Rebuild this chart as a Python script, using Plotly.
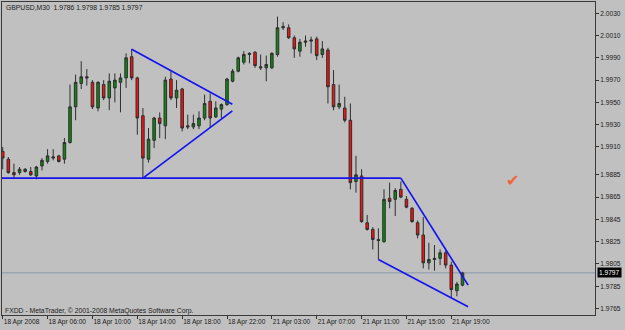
import plotly.graph_objects as go

# ---- data ----
bar_index = list(range(83))
opens = [1.9906, 1.9899, 1.9887, 1.9887, 1.9888, 1.9888, 1.9884, 1.9893, 1.9897, 1.9900,
         1.9902, 1.9899, 1.9914, 1.9946, 1.9967, 1.9973, 1.9968, 1.9945, 1.9966, 1.9954,
         1.9963, 1.9968, 1.9972, 1.9991, 1.9972, 1.9938, 1.9899, 1.9916, 1.9936, 1.9929,
         1.9971, 1.9954, 1.9962, 1.9929, 1.9928, 1.9929, 1.9936, 1.9951, 1.9937, 1.9944,
         1.9948, 1.9969, 1.9978, 1.9986, 1.9993, 1.9995, 1.9982, 1.9981, 1.9981, 1.9993,
         2.0017, 2.0017, 2.0008, 1.9996, 2.0004, 2.0005, 2.0007, 1.9993, 1.9997, 1.9966,
         1.9946, 1.9945, 1.9934, 1.9879, 1.9884, 1.9842, 1.9836, 1.9827, 1.9825, 1.9864,
         1.9863, 1.9872, 1.9863, 1.9855, 1.9842, 1.9831, 1.9806, 1.9809, 1.9810, 1.9815,
         1.9804, 1.9781, 1.9786]
highs = [1.9910, 1.9901, 1.9895, 1.9892, 1.9891, 1.9892, 1.9893, 1.9900, 1.9908, 1.9908,
         1.9903, 1.9918, 1.9966, 1.9975, 1.9987, 1.9980, 1.9970, 1.9969, 1.9970, 1.9976,
         1.9976, 1.9976, 1.9994, 1.9998, 1.9973, 1.9945, 1.9927, 1.9937, 1.9941, 1.9973,
         1.9978, 1.9970, 1.9963, 1.9939, 1.9939, 1.9942, 1.9957, 1.9958, 1.9951, 1.9949,
         1.9972, 1.9980, 1.9991, 1.9996, 1.9995, 1.9996, 1.9993, 1.9992, 1.9995, 2.0027,
         2.0022, 2.0020, 2.0010, 2.0007, 2.0010, 2.0009, 2.0009, 2.0005, 1.9999, 1.9979,
         1.9966, 1.9955, 1.9949, 1.9902, 1.9890, 1.9849, 1.9838, 1.9837, 1.9872, 1.9878,
         1.9873, 1.9879, 1.9866, 1.9856, 1.9844, 1.9847, 1.9824, 1.9822, 1.9818, 1.9817,
         1.9807, 1.9789, 1.9798]
lows = [1.9890, 1.9886, 1.9882, 1.9885, 1.9887, 1.9884, 1.9881, 1.9889, 1.9895, 1.9898,
        1.9896, 1.9895, 1.9913, 1.9934, 1.9962, 1.9965, 1.9944, 1.9942, 1.9952, 1.9943,
        1.9950, 1.9941, 1.9963, 1.9970, 1.9921, 1.9882, 1.9896, 1.9909, 1.9918, 1.9917,
        1.9952, 1.9945, 1.9924, 1.9926, 1.9926, 1.9926, 1.9934, 1.9928, 1.9936, 1.9936,
        1.9947, 1.9968, 1.9977, 1.9984, 1.9985, 1.9981, 1.9979, 1.9969, 1.9980, 1.9991,
        2.0015, 2.0007, 1.9990, 1.9991, 2.0000, 1.9994, 1.9988, 1.9990, 1.9949, 1.9943,
        1.9944, 1.9932, 1.9872, 1.9869, 1.9842, 1.9835, 1.9818, 1.9809, 1.9824, 1.9855,
        1.9848, 1.9864, 1.9855, 1.9842, 1.9828, 1.9801, 1.9800, 1.9799, 1.9804, 1.9801,
        1.9775, 1.9776, 1.9785]
closes = [1.9900, 1.9887, 1.9885, 1.9890, 1.9890, 1.9885, 1.9892, 1.9898, 1.9902, 1.9901,
          1.9897, 1.9914, 1.9946, 1.9968, 1.9973, 1.9972, 1.9946, 1.9968, 1.9954, 1.9969,
          1.9970, 1.9972, 1.9990, 1.9972, 1.9936, 1.9900, 1.9917, 1.9936, 1.9931, 1.9970,
          1.9954, 1.9961, 1.9927, 1.9928, 1.9931, 1.9936, 1.9949, 1.9936, 1.9945, 1.9948,
          1.9971, 1.9978, 1.9990, 1.9993, 1.9994, 1.9983, 1.9981, 1.9984, 1.9994, 2.0017,
          2.0018, 2.0008, 1.9998, 2.0004, 2.0005, 2.0006, 1.9992, 1.9998, 1.9964, 1.9946,
          1.9949, 1.9934, 1.9878, 1.9885, 1.9843, 1.9836, 1.9827, 1.9826, 1.9863, 1.9861,
          1.9871, 1.9865, 1.9856, 1.9843, 1.9831, 1.9806, 1.9809, 1.9810, 1.9815, 1.9804,
          1.9782, 1.9787, 1.9797]

time_tick_bars = [0, 8, 16, 24, 32, 40, 48, 56, 64, 72, 80]
time_tick_labels = ["18 Apr 2008", "18 Apr 06:00", "18 Apr 10:00", "18 Apr 14:00",
                    "18 Apr 18:00", "18 Apr 22:00", "21 Apr 03:00", "21 Apr 07:00",
                    "21 Apr 11:00", "21 Apr 15:00", "21 Apr 19:00"]
price_ticks = [2.0030, 2.0010, 1.9990, 1.9970, 1.9950, 1.9930, 1.9910,
               1.9885, 1.9865, 1.9845, 1.9825, 1.9805, 1.9785, 1.9765]

# trend lines drawn on the chart (bar index, price)
support_x = [-0.2, 71]
support_y = [1.9882, 1.9882]
wedge_top_x = [71, 83.0]
wedge_top_y = [1.9882, 1.9786]
wedge_bottom_x = [67, 83.0]
wedge_bottom_y = [1.9809, 1.97665]
tri_top_x = [23, 40.95]
tri_top_y = [1.99977, 1.99484]
tri_bottom_x = [25, 40.95]
tri_bottom_y = [1.9882, 1.99424]

symbol_text = "GBPUSD,M30\u00a0\u00a01.9786 1.9798 1.9785 1.9797"
copyright_text = "FXDD - MetaTrader, © 2001-2008 MetaQuotes Software Corp."
last_price = 1.9797

FONT = "Liberation Sans, Arial, sans-serif"
BG = "#c0c0c0"
BLUE = "#1414f0"

fig = go.Figure()

fig.add_trace(go.Candlestick(
    x=bar_index, open=opens, high=highs, low=lows, close=closes,
    increasing=dict(fillcolor="#0c8a0c", line=dict(color="#2e2e2e", width=1)),
    decreasing=dict(fillcolor="#ff0d0d", line=dict(color="#2e2e2e", width=1)),
    whiskerwidth=0, showlegend=False, hoverinfo="skip",
))

for lx, ly in [(support_x, support_y), (wedge_top_x, wedge_top_y),
               (wedge_bottom_x, wedge_bottom_y), (tri_top_x, tri_top_y),
               (tri_bottom_x, tri_bottom_y)]:
    fig.add_trace(go.Scatter(x=lx, y=ly, mode="lines",
                             line=dict(color=BLUE, width=1.7),
                             showlegend=False, hoverinfo="skip"))

# bid line
fig.add_shape(type="line", xref="paper", x0=0, x1=1, yref="y", y0=last_price, y1=last_price,
              line=dict(color="#8797a8", width=1), layer="below")

fig.add_annotation(xref="paper", yref="paper", x=0, y=1, xshift=2, yshift=-5,
                   xanchor="left", yanchor="middle", text=symbol_text, showarrow=False,
                   font=dict(family=FONT, size=6.8, color="#1a1a1a"))
fig.add_annotation(xref="paper", yref="paper", x=0, y=0, xshift=1, yshift=4,
                   xanchor="left", yanchor="middle", text=copyright_text, showarrow=False,
                   font=dict(family=FONT, size=6.8, color="#1a1a1a"))
fig.add_annotation(xref="paper", yref="y", x=1, y=last_price, xshift=2,
                   xanchor="left", yanchor="middle", text=f"{last_price:.4f}", showarrow=False,
                   bgcolor="#000000", borderpad=1,
                   font=dict(family=FONT, size=6.6, color="#ffffff"))
fig.add_annotation(xref="x", yref="y", x=90.9, y=1.9880, text="✔", showarrow=False,
                   font=dict(family="DejaVu Sans", size=16, color="#f0643c"))

fig.update_layout(
    width=625, height=330, autosize=False,
    margin=dict(l=2, r=30, t=2, b=15, pad=0, autoexpand=False),
    paper_bgcolor=BG, plot_bgcolor=BG,
    boxgap=0.35,
    font=dict(family=FONT, size=6.6, color="#1a1a1a"),
    xaxis=dict(range=[-0.13, 105.63], showgrid=False, zeroline=False,
               rangeslider=dict(visible=False), automargin=False,
               tickmode="array", tickvals=time_tick_bars, ticktext=time_tick_labels,
               tickangle=0,
               ticks="outside", ticklen=3, tickcolor="#303030",
               ticklabelposition="outside right",
               tickfont=dict(family=FONT, size=6.6, color="#1a1a1a"),
               showline=True, linecolor="#3a3a3a", linewidth=1, mirror=True),
    yaxis=dict(range=[1.97592, 2.00401], side="right", showgrid=False, zeroline=False,
               automargin=False,
               tickmode="array", tickvals=price_ticks,
               ticktext=[f"{v:.4f}" for v in price_ticks],
               ticks="outside", ticklen=3, tickcolor="#303030",
               tickfont=dict(family=FONT, size=6.6, color="#1a1a1a"),
               showline=True, linecolor="#3a3a3a", linewidth=1, mirror=True),
)

fig.write_html("out.html")
